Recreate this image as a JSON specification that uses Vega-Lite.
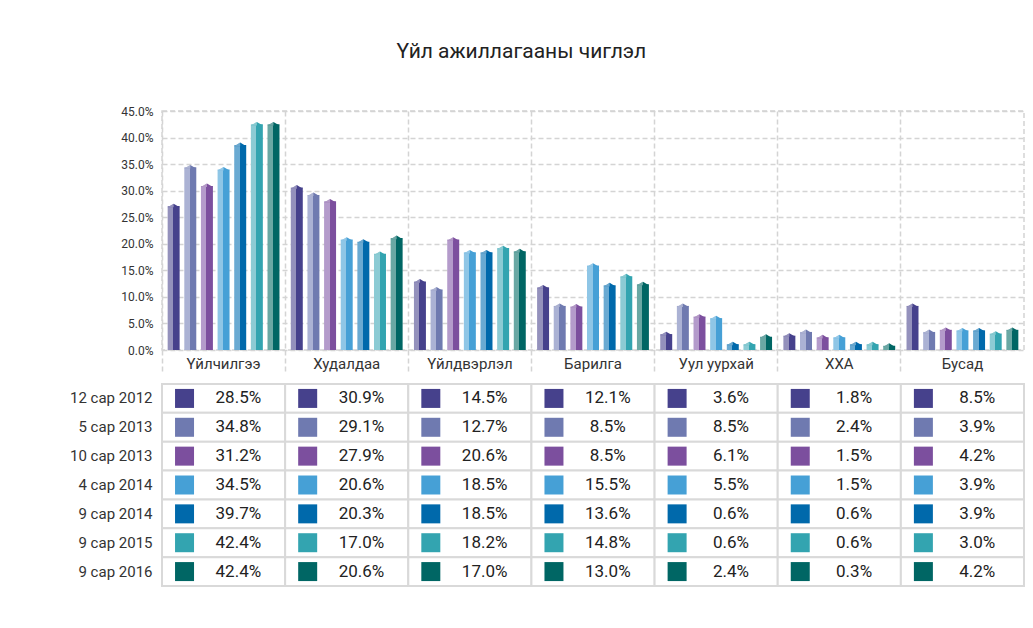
{
  "$schema": "https://vega.github.io/schema/vega-lite/v6.json",
  "background": "white",
  "padding": {"left": 69, "top": 41, "right": 5, "bottom": 5},
  "title": {"text": "Үйл ажиллагааны чиглэл", "fontSize": 21, "fontWeight": "normal", "color": "#222222", "font": "Roboto", "anchor": "middle", "frame": "bounds", "offset": 42, "dx": -26},
  "config": {
    "font": "Roboto",
    "view": {"stroke": null}
  },
  "datasets": {
    "d": [
      {"cat": "Үйлчилгээ", "ser": "12 сар 2012", "bar": 27.1, "tbl": 28.5},
      {"cat": "Үйлчилгээ", "ser": "5 сар 2013", "bar": 34.4, "tbl": 34.8},
      {"cat": "Үйлчилгээ", "ser": "10 сар 2013", "bar": 30.9, "tbl": 31.2},
      {"cat": "Үйлчилгээ", "ser": "4 сар 2014", "bar": 34.0, "tbl": 34.5},
      {"cat": "Үйлчилгээ", "ser": "9 сар 2014", "bar": 38.6, "tbl": 39.7},
      {"cat": "Үйлчилгээ", "ser": "9 сар 2015", "bar": 42.5, "tbl": 42.4},
      {"cat": "Үйлчилгээ", "ser": "9 сар 2016", "bar": 42.5, "tbl": 42.4},
      {"cat": "Худалдаа", "ser": "12 сар 2012", "bar": 30.6, "tbl": 30.9},
      {"cat": "Худалдаа", "ser": "5 сар 2013", "bar": 29.2, "tbl": 29.1},
      {"cat": "Худалдаа", "ser": "10 сар 2013", "bar": 28.0, "tbl": 27.9},
      {"cat": "Худалдаа", "ser": "4 сар 2014", "bar": 20.8, "tbl": 20.6},
      {"cat": "Худалдаа", "ser": "9 сар 2014", "bar": 20.4, "tbl": 20.3},
      {"cat": "Худалдаа", "ser": "9 сар 2015", "bar": 18.1, "tbl": 17.0},
      {"cat": "Худалдаа", "ser": "9 сар 2016", "bar": 21.1, "tbl": 20.6},
      {"cat": "Үйлдвэрлэл", "ser": "12 сар 2012", "bar": 12.9, "tbl": 14.5},
      {"cat": "Үйлдвэрлэл", "ser": "5 сар 2013", "bar": 11.4, "tbl": 12.7},
      {"cat": "Үйлдвэрлэл", "ser": "10 сар 2013", "bar": 20.8, "tbl": 20.6},
      {"cat": "Үйлдвэрлэл", "ser": "4 сар 2014", "bar": 18.4, "tbl": 18.5},
      {"cat": "Үйлдвэрлэл", "ser": "9 сар 2014", "bar": 18.4, "tbl": 18.5},
      {"cat": "Үйлдвэрлэл", "ser": "9 сар 2015", "bar": 19.2, "tbl": 18.2},
      {"cat": "Үйлдвэрлэл", "ser": "9 сар 2016", "bar": 18.6, "tbl": 17.0},
      {"cat": "Барилга", "ser": "12 сар 2012", "bar": 11.8, "tbl": 12.1},
      {"cat": "Барилга", "ser": "5 сар 2013", "bar": 8.3, "tbl": 8.5},
      {"cat": "Барилга", "ser": "10 сар 2013", "bar": 8.2, "tbl": 8.5},
      {"cat": "Барилга", "ser": "4 сар 2014", "bar": 15.9, "tbl": 15.5},
      {"cat": "Барилга", "ser": "9 сар 2014", "bar": 12.2, "tbl": 13.6},
      {"cat": "Барилга", "ser": "9 сар 2015", "bar": 13.9, "tbl": 14.8},
      {"cat": "Барилга", "ser": "9 сар 2016", "bar": 12.4, "tbl": 13.0},
      {"cat": "Уул уурхай", "ser": "12 сар 2012", "bar": 3.0, "tbl": 3.6},
      {"cat": "Уул уурхай", "ser": "5 сар 2013", "bar": 8.3, "tbl": 8.5},
      {"cat": "Уул уурхай", "ser": "10 сар 2013", "bar": 6.3, "tbl": 6.1},
      {"cat": "Уул уурхай", "ser": "4 сар 2014", "bar": 6.0, "tbl": 5.5},
      {"cat": "Уул уурхай", "ser": "9 сар 2014", "bar": 1.1, "tbl": 0.6},
      {"cat": "Уул уурхай", "ser": "9 сар 2015", "bar": 1.1, "tbl": 0.6},
      {"cat": "Уул уурхай", "ser": "9 сар 2016", "bar": 2.5, "tbl": 2.4},
      {"cat": "ХХА", "ser": "12 сар 2012", "bar": 2.7, "tbl": 1.8},
      {"cat": "ХХА", "ser": "5 сар 2013", "bar": 3.4, "tbl": 2.4},
      {"cat": "ХХА", "ser": "10 сар 2013", "bar": 2.4, "tbl": 1.5},
      {"cat": "ХХА", "ser": "4 сар 2014", "bar": 2.4, "tbl": 1.5},
      {"cat": "ХХА", "ser": "9 сар 2014", "bar": 1.1, "tbl": 0.6},
      {"cat": "ХХА", "ser": "9 сар 2015", "bar": 1.1, "tbl": 0.6},
      {"cat": "ХХА", "ser": "9 сар 2016", "bar": 0.8, "tbl": 0.3},
      {"cat": "Бусад", "ser": "12 сар 2012", "bar": 8.3, "tbl": 8.5},
      {"cat": "Бусад", "ser": "5 сар 2013", "bar": 3.4, "tbl": 3.9},
      {"cat": "Бусад", "ser": "10 сар 2013", "bar": 3.8, "tbl": 4.2},
      {"cat": "Бусад", "ser": "4 сар 2014", "bar": 3.7, "tbl": 3.9},
      {"cat": "Бусад", "ser": "9 сар 2014", "bar": 3.7, "tbl": 3.9},
      {"cat": "Бусад", "ser": "9 сар 2015", "bar": 3.1, "tbl": 3.0},
      {"cat": "Бусад", "ser": "9 сар 2016", "bar": 3.8, "tbl": 4.2}
    ]
  },
  "data": {"name": "d"},
  "spacing": 7,
  "vconcat": [
    {
      "width": 862,
      "height": 239,
      "view": {"stroke": "#d4d4d4", "strokeWidth": 1.5, "strokeDash": [5, 3]},
      "encoding": {
        "x": {"field": "cat", "type": "nominal", "sort": null,
          "scale": {"paddingInner": 0, "paddingOuter": 0},
          "axis": {"title": null, "bandPosition": 0, "labelAngle": 0, "labelFontSize": 15, "labelColor": "#333333", "labelPadding": -18,
            "domain": false, "ticks": true, "tickSize": 24, "tickColor": "#d4d4d4", "tickWidth": 1.5, "tickDash": [5, 3],
            "grid": true, "gridColor": "#d4d4d4", "gridWidth": 1.5, "gridDash": [5, 3]}},
        "xOffset": {"field": "ser", "type": "nominal", "sort": ["12 сар 2012", "5 сар 2013", "10 сар 2013", "4 сар 2014", "9 сар 2014", "9 сар 2015", "9 сар 2016"],
          "scale": {"paddingInner": 0.28, "paddingOuter": 0.34}},
        "y": {"field": "bar", "type": "quantitative",
          "scale": {"domain": [0, 45], "nice": false},
          "axis": {"title": null, "values": [0, 5, 10, 15, 20, 25, 30, 35, 40, 45], "labelExpr": "format(datum.value, '.1f') + '%'",
            "labelFontSize": 12, "labelColor": "#333333", "labelPadding": 9, "domain": false, "ticks": false,
            "grid": true, "gridColor": "#d4d4d4", "gridWidth": 1.5, "gridDash": [5, 3]}}
      },
      "layer": [
        {"mark": {"type": "bar", "opacity": 1},
          "encoding": {"color": {"condition": [
            {"test": "datum.ser === '12 сар 2012'", "value": {"gradient": "linear", "x1": 0, "x2": 1, "y1": 0, "y2": 0, "stops": [{"offset": 0, "color": "#9491bc"}, {"offset": 0.46, "color": "#9491bc"}, {"offset": 0.46, "color": "#46418c"}, {"offset": 1, "color": "#46418c"}]}},
            {"test": "datum.ser === '5 сар 2013'", "value": {"gradient": "linear", "x1": 0, "x2": 1, "y1": 0, "y2": 0, "stops": [{"offset": 0, "color": "#abb2d4"}, {"offset": 0.46, "color": "#abb2d4"}, {"offset": 0.46, "color": "#6f7ab0"}, {"offset": 1, "color": "#6f7ab0"}]}},
            {"test": "datum.ser === '10 сар 2013'", "value": {"gradient": "linear", "x1": 0, "x2": 1, "y1": 0, "y2": 0, "stops": [{"offset": 0, "color": "#b49bcb"}, {"offset": 0.46, "color": "#b49bcb"}, {"offset": 0.46, "color": "#7c4f9e"}, {"offset": 1, "color": "#7c4f9e"}]}},
            {"test": "datum.ser === '4 сар 2014'", "value": {"gradient": "linear", "x1": 0, "x2": 1, "y1": 0, "y2": 0, "stops": [{"offset": 0, "color": "#8fc6e6"}, {"offset": 0.46, "color": "#8fc6e6"}, {"offset": 0.46, "color": "#46a0d6"}, {"offset": 1, "color": "#46a0d6"}]}},
            {"test": "datum.ser === '9 сар 2014'", "value": {"gradient": "linear", "x1": 0, "x2": 1, "y1": 0, "y2": 0, "stops": [{"offset": 0, "color": "#6aaad2"}, {"offset": 0.46, "color": "#6aaad2"}, {"offset": 0.46, "color": "#0069ab"}, {"offset": 1, "color": "#0069ab"}]}},
            {"test": "datum.ser === '9 сар 2015'", "value": {"gradient": "linear", "x1": 0, "x2": 1, "y1": 0, "y2": 0, "stops": [{"offset": 0, "color": "#8ccbd4"}, {"offset": 0.46, "color": "#8ccbd4"}, {"offset": 0.46, "color": "#33a4b0"}, {"offset": 1, "color": "#33a4b0"}]}}
          ], "value": {"gradient": "linear", "x1": 0, "x2": 1, "y1": 0, "y2": 0, "stops": [{"offset": 0, "color": "#6aa8a4"}, {"offset": 0.46, "color": "#6aa8a4"}, {"offset": 0.46, "color": "#006664"}, {"offset": 1, "color": "#006664"}]}}}},
        {"mark": {"type": "point", "filled": true, "opacity": 1, "size": 144, "shape": "M-1,0.2L0,-0.4L1,0.2Z"},
          "encoding": {"color": {"field": "ser", "type": "nominal", "legend": null,
            "scale": {"domain": ["12 сар 2012", "5 сар 2013", "10 сар 2013", "4 сар 2014", "9 сар 2014", "9 сар 2015", "9 сар 2016"],
              "range": ["#46418c", "#6f7ab0", "#7c4f9e", "#46a0d6", "#0069ab", "#33a4b0", "#006664"]}}}},
        {"mark": {"type": "point", "filled": true, "color": "white", "opacity": 0.42, "size": 144, "shape": "M-1,0.2L0,-0.4L0,0.2Z"}}
      ]
    },
    {
      "width": 862,
      "height": 202,
      "encoding": {
        "x": {"field": "cat", "type": "nominal", "sort": null, "scale": {"paddingInner": 0, "paddingOuter": 0}, "axis": null},
        "y": {"field": "ser", "type": "nominal",
          "sort": ["12 сар 2012", "5 сар 2013", "10 сар 2013", "4 сар 2014", "9 сар 2014", "9 сар 2015", "9 сар 2016"],
          "scale": {"paddingInner": 0, "paddingOuter": 0},
          "axis": {"title": null, "domain": false, "ticks": false, "labelFontSize": 15, "labelColor": "#333333", "labelPadding": 10}}
      },
      "layer": [
        {"mark": {"type": "rect", "fill": "white", "stroke": "#d9d9d9", "strokeWidth": 2}},
        {"mark": {"type": "square", "filled": true, "opacity": 1, "size": 361},
          "encoding": {
            "x": {"field": "cat", "type": "nominal", "sort": null, "bandPosition": 0.183},
            "color": {"field": "ser", "type": "nominal", "legend": null,
              "scale": {"domain": ["12 сар 2012", "5 сар 2013", "10 сар 2013", "4 сар 2014", "9 сар 2014", "9 сар 2015", "9 сар 2016"],
                "range": ["#46418c", "#6f7ab0", "#7c4f9e", "#46a0d6", "#0069ab", "#33a4b0", "#006664"]}}}},
        {"mark": {"type": "text", "fontSize": 17, "color": "#222222", "text": {"expr": "format(datum.tbl, '.1f') + '%'"}},
          "encoding": {"x": {"field": "cat", "type": "nominal", "sort": null, "bandPosition": 0.62}}}
      ]
    }
  ]
}
